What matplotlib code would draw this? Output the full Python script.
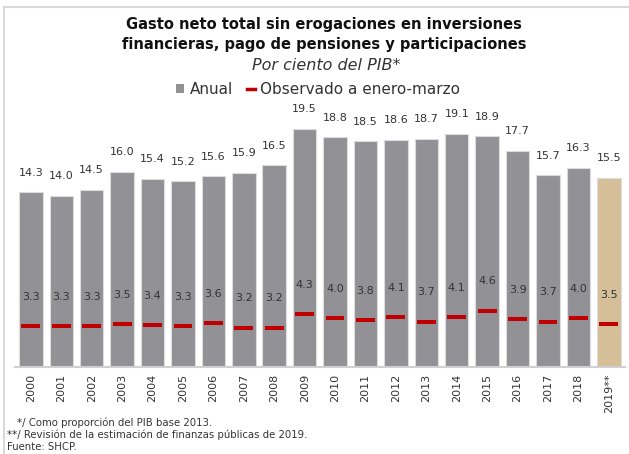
import matplotlib
matplotlib.use("Agg")
import matplotlib.pyplot as plt
from matplotlib.lines import Line2D
from matplotlib.patches import Patch
import numpy as np

years = ["2000", "2001", "2002", "2003", "2004", "2005", "2006", "2007", "2008", "2009",
         "2010", "2011", "2012", "2013", "2014", "2015", "2016", "2017", "2018", "2019**"]
anual = [14.3, 14.0, 14.5, 16.0, 15.4, 15.2, 15.6, 15.9, 16.5, 19.5,
         18.8, 18.5, 18.6, 18.7, 19.1, 18.9, 17.7, 15.7, 16.3, 15.5]
observado = [3.3, 3.3, 3.3, 3.5, 3.4, 3.3, 3.6, 3.2, 3.2, 4.3,
             4.0, 3.8, 4.1, 3.7, 4.1, 4.6, 3.9, 3.7, 4.0, 3.5]

GRAY = "#929196"
TAN = "#D5BF98"
RED = "#C00000"
TXT = "#333333"

W, H = 629, 454
fig = plt.figure(figsize=(W / 100, H / 100), dpi=100)
ax = fig.add_axes([15 / W, 87.3 / H, 610 / W, 268.4 / H])

x = np.arange(len(years))
colors = [GRAY] * (len(years) - 1) + [TAN]
ax.bar(x, anual, width=0.77, color=colors, edgecolor="#dcdcdc", linewidth=0.8, zorder=2)
ax.hlines(observado, x - 0.31, x + 0.31, color=RED, linewidth=2.9, zorder=3)

for xi, v in zip(x, anual):
    ax.annotate(f"{v:.1f}", (xi, v), xytext=(0, 14), textcoords="offset points",
                ha="center", va="center", fontsize=8, color=TXT)
for xi, v in zip(x, observado):
    ax.annotate(f"{v:.1f}", (xi, v), xytext=(0, 21), textcoords="offset points",
                ha="center", va="center", fontsize=8, color=TXT)

ax.set_xlim(-0.52, 19.53)
ax.set_ylim(0, 22)
ax.set_xticks(x)
ax.set_xticklabels(years, rotation=90, fontsize=8, color=TXT)
ax.tick_params(axis="x", length=0, pad=5)
ax.set_yticks([])
for s in ["top", "right", "left"]:
    ax.spines[s].set_visible(False)
ax.spines["bottom"].set_color("#d0d0d0")
ax.spines["bottom"].set_linewidth(1.5)

# titles
fig.text(324 / W, 1 - 25 / H, "Gasto neto total sin erogaciones en inversiones",
         ha="center", va="center", fontsize=10.5, fontweight="bold", color="#111111")
fig.text(324 / W, 1 - 45 / H, "financieras, pago de pensiones y participaciones",
         ha="center", va="center", fontsize=10.5, fontweight="bold", color="#111111")
fig.text(326 / W, 1 - 65 / H, "Por ciento del PIB*", ha="center", va="center",
         fontsize=11.5, style="italic", color=TXT)

handles = [Patch(facecolor=GRAY, edgecolor="none"),
           Line2D([0], [0], color=RED, lw=2.5)]
fig.legend(handles, ["Anual", "Observado a enero-marzo"], loc="center",
           bbox_to_anchor=(318 / W, 1 - 89.5 / H), ncol=2, frameon=False,
           fontsize=11, handlelength=0.55, handleheight=0.6, handletextpad=0.35,
           columnspacing=0.9, labelcolor=TXT)

# footnotes
fig.text(17 / W, 1 - 423 / H, "*/ Como proporción del PIB base 2013.", ha="left",
         va="center", fontsize=7.3, color=TXT)
fig.text(7 / W, 1 - 435 / H, "**/ Revisión de la estimación de finanzas públicas de 2019.",
         ha="left", va="center", fontsize=7.3, color=TXT)
fig.text(7 / W, 1 - 447 / H, "Fuente: SHCP.", ha="left", va="center", fontsize=7.3, color=TXT)

# frame lines
fig.add_artist(Line2D([4 / W, 1], [1 - 7 / H, 1 - 7 / H], transform=fig.transFigure,
                      color="#d9d9d9", lw=1.5))
fig.add_artist(Line2D([4 / W, 4 / W], [0, 1 - 7 / H], transform=fig.transFigure,
                      color="#d9d9d9", lw=1.5))

fig.savefig("out.png", dpi=100)
